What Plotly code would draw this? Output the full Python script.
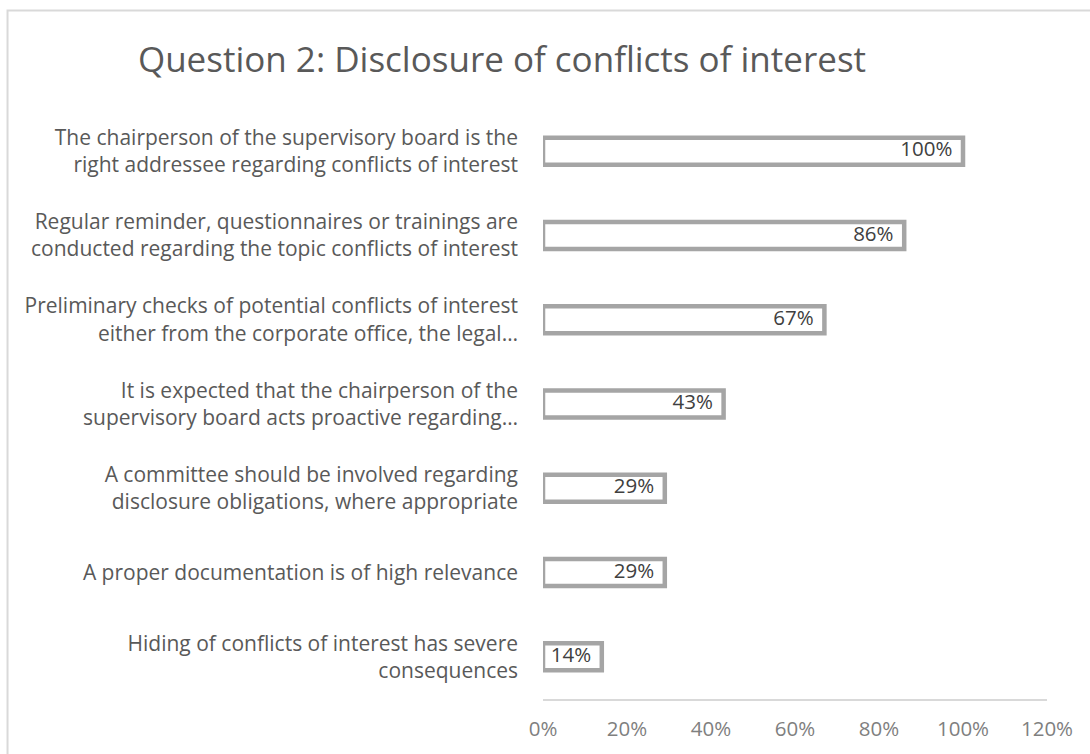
import plotly.graph_objects as go

# Survey results: share of respondents agreeing with each statement
categories = [
    "The chairperson of the supervisory board is the<br>right addressee regarding conflicts of interest",
    "Regular reminder, questionnaires or trainings are<br>conducted regarding the topic conflicts of interest",
    "Preliminary checks of potential conflicts of interest<br>either from the corporate office, the legal…",
    "It is expected that the chairperson of the<br>supervisory board acts proactive regarding…",
    "A committee should be involved regarding<br>disclosure obligations, where appropriate",
    "A proper documentation is of high relevance",
    "Hiding of conflicts of interest has severe<br>consequences",
]
shares = [1.00, 0.86, 0.67, 0.43, 0.29, 0.29, 0.14]
share_labels = ["100%", "86%", "67%", "43%", "29%", "29%", "14%"]
tick_values = [0, 0.2, 0.4, 0.6, 0.8, 1.0, 1.2]
tick_labels = ["0%", "20%", "40%", "60%", "80%", "100%", "120%"]

FONT = "Open Sans"
PAD = "\u00a0\u00a0"  # breathing room between the value label and the bar end

fig = go.Figure()

# outlined bars
fig.add_trace(
    go.Bar(
        x=shares,
        y=categories,
        orientation="h",
        width=0.32,
        marker=dict(color="white", line=dict(color="#a5a5a5", width=4.5)),
        hoverinfo="skip",
    )
)

# value labels sitting just inside the end of each bar
fig.add_trace(
    go.Scatter(
        x=shares,
        y=categories,
        mode="text",
        text=[s + PAD for s in share_labels],
        textposition="middle left",
        textfont=dict(family=FONT, size=20.5, color="#404040"),
        hoverinfo="skip",
        cliponaxis=False,
    )
)

fig.update_layout(
    width=1090,
    height=754,
    margin=dict(l=542.5, r=43, t=109, b=54.7),
    paper_bgcolor="white",
    plot_bgcolor="white",
    showlegend=False,
    title=dict(
        text="Question 2: Disclosure of conflicts of interest",
        font=dict(family=FONT, size=35, color="#595959"),
        x=502 / 1090,
        xanchor="center",
        xref="container",
        y=1 - 60 / 754,
        yref="container",
        yanchor="middle",
    ),
    xaxis=dict(
        range=[0, 1.2],
        tickvals=tick_values,
        ticktext=tick_labels,
        showgrid=False,
        zeroline=False,
        showline=True,
        linecolor="#d9d9d9",
        linewidth=1.5,
        ticks="",
        ticklabelstandoff=11,
        tickfont=dict(family=FONT, size=20.5, color="#7f7f7f"),
        fixedrange=True,
    ),
    yaxis=dict(
        autorange="reversed",
        showgrid=False,
        zeroline=False,
        showline=False,
        ticks="",
        ticklabelstandoff=24,
        tickfont=dict(family=FONT, size=21, color="#595959"),
        fixedrange=True,
    ),
    shapes=[
        # chart frame (only its top and left edges fall inside the page)
        dict(
            type="rect",
            xref="paper",
            yref="paper",
            x0=(6.5 - 542.5) / 504.5,
            x1=(1100 - 542.5) / 504.5,
            y0=(699.3 - 770) / 590.3,
            y1=(699.3 - 10.5) / 590.3,
            line=dict(color="#d9d9d9", width=2),
            fillcolor="rgba(0,0,0,0)",
            layer="below",
        )
    ],
)

fig.write_html("out.html")
